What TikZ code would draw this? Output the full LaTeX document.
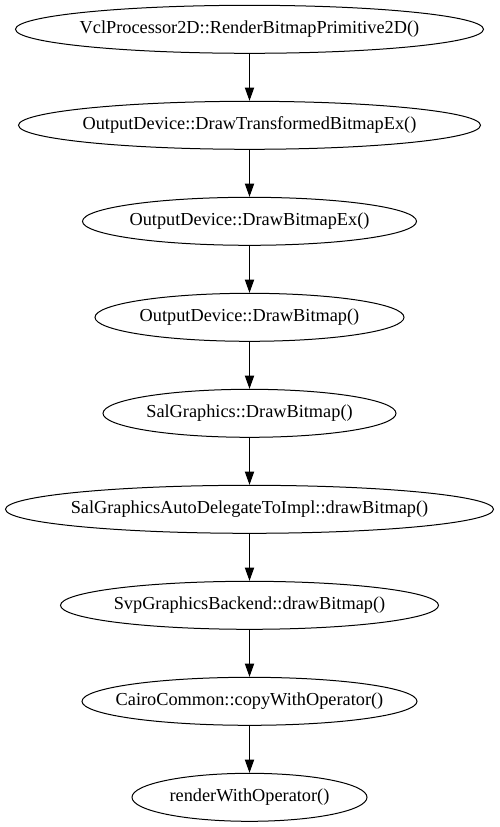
\documentclass[tikz,border=0pt]{standalone}
\usepackage{fontspec}
\setmainfont{Liberation Serif}
\usetikzlibrary{shapes.geometric,arrows.meta}
\tikzset{
	fn/.style={draw,ellipse,line width=1pt,inner sep=0pt,minimum height=48pt,
		font=\fontsize{18.3}{22}\selectfont},
	call/.style={line width=1pt,-{Triangle[length=13.3pt,width=9.3pt]}}
}
\begin{document}
\begin{tikzpicture}[x=1pt,y=-1pt]
	\useasboundingbox (0,0) rectangle (499,827);
	\foreach \t/\w [count=\i] in {
		VclProcessor2D::RenderBitmapPrimitive2D()/468,
		OutputDevice::DrawTransformedBitmapEx()/462,
		OutputDevice::DrawBitmapEx()/334,
		OutputDevice::DrawBitmap()/309,
		SalGraphics::DrawBitmap()/293,
		SalGraphicsAutoDelegateToImpl::drawBitmap()/488,
		SvpGraphicsBackend::drawBitmap()/378,
		CairoCommon::copyWithOperator()/335,
		renderWithOperator()/235}{
		\node[fn,minimum width=\w pt] (f\i) at (249.5,29.3+96*\i-96) {\makebox[0pt]{\t}};
	}
	\foreach \i [evaluate=\i as \j using int(\i+1)] in {1,...,8}{
		\draw[call] (f\i.south) -- (f\j.north);
	}
\end{tikzpicture}
\end{document}
